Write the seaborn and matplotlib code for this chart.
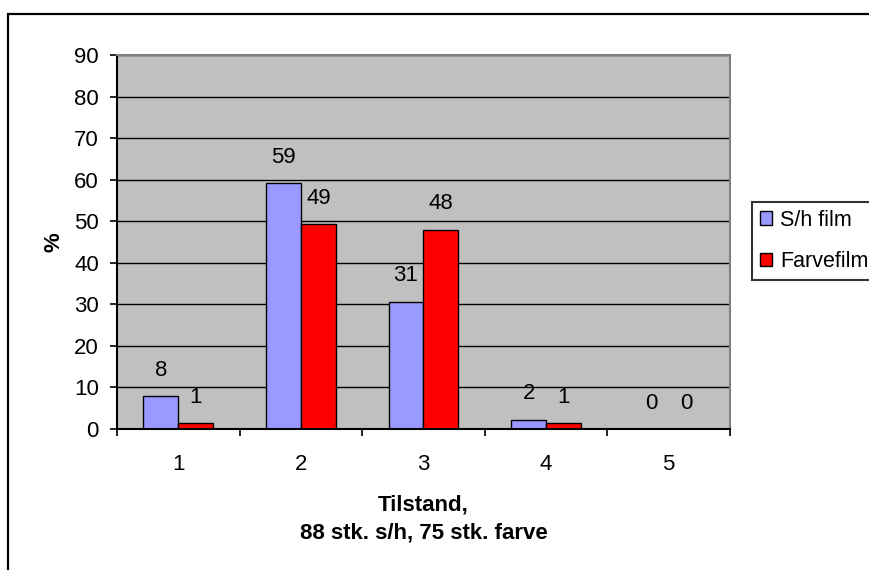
import matplotlib
matplotlib.use("Agg")
import matplotlib.pyplot as plt
import matplotlib.patches as mpatches
from matplotlib.ticker import FixedLocator
import pandas as pd
import seaborn as sns

# Condition grades and share (%) of films in each grade
categories = ["1", "2", "3", "4", "5"]
bw_pct = [7.95, 59.09, 30.68, 2.27, 0.0]      # 88 black-and-white films
colour_pct = [1.33, 49.33, 48.00, 1.33, 0.0]  # 75 colour films
series_names = ["S/h film", "Farvefilm"]
y_ticks = [0, 10, 20, 30, 40, 50, 60, 70, 80, 90]

df = pd.DataFrame({
    "Tilstand": categories * 2,
    "Pct": bw_pct + colour_pct,
    "Film": [series_names[0]] * len(categories) + [series_names[1]] * len(categories),
})

sns.set_style("white")
plt.rcParams["font.family"] = ["Liberation Sans", "DejaVu Sans"]
for key in ["text.color", "axes.labelcolor", "xtick.color", "ytick.color"]:
    plt.rcParams[key] = "black"

FS = 16
W, H = 870, 570
fig = plt.figure(figsize=(W / 100, H / 100), dpi=100)
fig.patch.set_facecolor("white")

# chart-area frame (runs off the right and bottom edges)
fig.patches.append(mpatches.Rectangle((8 / W, -0.05), 1.2, 1 - 14 / H + 0.05,
                                      transform=fig.transFigure, fill=False,
                                      edgecolor="black", linewidth=1.6, zorder=0))

ax = fig.add_axes([117 / W, 1 - 429 / H, (730 - 117) / W, (429 - 55) / H])
ax.set_facecolor("#C0C0C0")

sns.barplot(data=df, x="Tilstand", y="Pct", hue="Film", order=categories,
            hue_order=series_names, palette=["#9999FF", "#FF0000"],
            width=0.57, edgecolor="black", linewidth=1.0, ax=ax,
            errorbar=None, saturation=1)

for cont in ax.containers:
    ax.bar_label(cont, fmt="%.0f", padding=11, fontsize=FS, color="black")

ax.set_xlim(-0.5, 4.5)
ax.set_ylim(0, 90)
ax.set_yticks(y_ticks)
ax.yaxis.grid(True, color="black", linewidth=1.0)
ax.set_axisbelow(True)

ax.tick_params(axis="y", direction="out", length=5, width=1.2, color="black",
               labelsize=FS, pad=8, left=True)
ax.tick_params(axis="x", which="major", length=0, labelsize=FS, pad=18)
ax.xaxis.set_minor_locator(FixedLocator([-0.5, 0.5, 1.5, 2.5, 3.5, 4.5]))
ax.tick_params(axis="x", which="minor", direction="out", length=5, width=1.2,
               color="black", bottom=True)

for side in ["left", "bottom"]:
    ax.spines[side].set_color("black")
    ax.spines[side].set_linewidth(1.5)
for side in ["top", "right"]:
    ax.spines[side].set_color("#808080")
    ax.spines[side].set_linewidth(1.5)

ax.set_ylabel("%", fontsize=FS, fontweight="bold", labelpad=7)
ax.set_xlabel("Tilstand,\n88 stk. s/h, 75 stk. farve", fontsize=FS,
              fontweight="bold", labelpad=14, linespacing=1.45)

handles, labels = ax.get_legend_handles_labels()
ax.get_legend().remove()
leg = fig.legend(handles, labels, loc="upper left",
                 bbox_to_anchor=(752 / W, 1 - 202 / H), borderaxespad=0,
                 fontsize=15.5, frameon=True, fancybox=False, edgecolor="black",
                 handlelength=0.6, handleheight=0.6, handletextpad=0.35,
                 labelspacing=0.95, borderpad=0.35)
leg.get_frame().set_linewidth(1.5)

fig.savefig("out.png", dpi=100)
